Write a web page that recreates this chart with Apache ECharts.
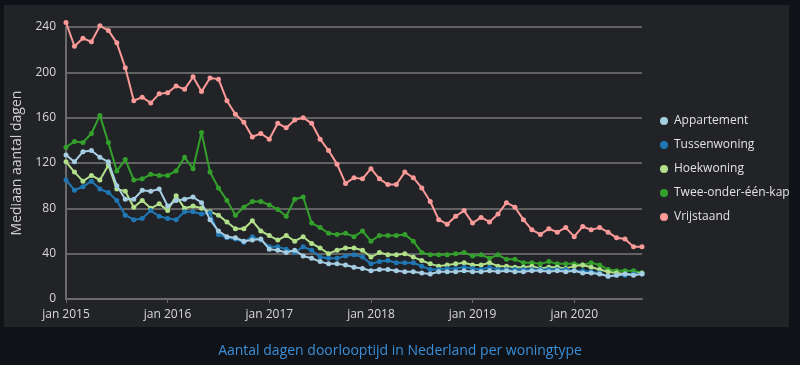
<!DOCTYPE html>
<html>
<head>
<meta charset="utf-8">
<script src="https://cdn.jsdelivr.net/npm/echarts@6/dist/echarts.min.js"></script>
<style>
  html, body { margin: 0; padding: 0; background: #0f1217; }
  #panel { position: absolute; left: 4px; top: 5px; width: 785px; height: 322px; background: #222327; }
  #chart { position: absolute; left: 0; top: 0; width: 800px; height: 365px; }
</style>
</head>
<body>
<div id="panel"></div>
<div id="chart"></div>
<script>
// Months jan 2015 .. sep 2020
const months = [];
for (let y = 2015; y <= 2020; y++) {
  for (let m = 1; m <= 12; m++) {
    if (y === 2020 && m > 9) break;
    months.push(y + '-' + (m < 10 ? '0' + m : m));
  }
}

const seriesNames = ['Appartement', 'Tussenwoning', 'Hoekwoning', 'Twee-onder-één-kap', 'Vrijstaand'];

const appartement = [127,121,130,131,125,121,100,88,88,96,95,97,82,87,88,90,85,70,60,55,54,51,52,53,44,43,41,43,38,36,33,31,31,30,
  28,27,25,26,26,25,24,24,23,22,24,24,24,25,24,24,25,24,25,24,24,25,25,24,25,24,25,23,23,22,20,21,22,21,22];

const tussenwoning = [105,96,99,104,97,94,87,74,70,71,78,73,71,70,77,77,75,76,57,54,53,50,55,52,46,46,44,41,46,43,37,36,36,38,
  39,37,31,33,34,32,32,32,29,26,26,27,27,28,27,26,28,26,26,26,26,26,26,26,26,26,25,25,24,23,20,21,21,22,22];

const hoekwoning = [121,112,104,109,105,118,97,95,81,87,80,84,78,91,80,82,80,77,74,68,62,62,69,60,56,52,56,51,55,49,45,40,43,45,
  45,43,37,41,39,39,40,37,34,31,29,30,31,32,30,30,32,29,29,28,28,29,27,28,28,27,29,30,28,26,24,23,22,22,23];

const tweeOnderEenKap = [134,139,138,146,162,138,113,123,105,106,110,109,109,113,125,115,147,112,98,87,74,81,86,86,83,79,73,88,90,67,63,58,57,58,
  55,60,51,56,56,56,57,51,41,39,39,39,40,41,38,39,36,39,35,35,32,32,31,33,31,31,31,30,32,30,26,25,25,25,23];

const vrijstaand = [244,223,230,227,241,237,226,204,175,178,173,181,182,188,185,196,183,195,194,175,163,156,143,146,141,155,151,158,160,155,141,131,119,102,
  107,106,115,106,101,101,112,107,98,86,70,66,73,78,67,72,68,75,85,81,70,61,57,62,59,63,55,64,61,63,59,54,53,46,46];

const yTicks = [0, 40, 80, 120, 160, 200, 240];
const colors = ['#a6cee3', '#1f78b4', '#b2df8a', '#33a02c', '#fb9a99'];
const caption = 'Aantal dagen doorlooptijd in Nederland per woningtype';
const yName = 'Mediaan aantal dagen';

const allData = [appartement, tussenwoning, hoekwoning, tweeOnderEenKap, vrijstaand];
const font = '"Open Sans", "Noto Sans", sans-serif';

const chart = echarts.init(document.getElementById('chart'), null, { renderer: 'canvas' });
chart.setOption({
  backgroundColor: 'transparent',
  animation: false,
  title: {
    text: caption,
    left: 'center',
    top: 339,
    textStyle: { color: '#3a8fd8', fontSize: 14, fontWeight: 'normal', fontFamily: font }
  },
  grid: { left: 66, right: 158, top: 27, bottom: 66 },
  legend: {
    orient: 'vertical',
    left: 655,
    top: 110,
    itemWidth: 12,
    itemHeight: 8,
    itemGap: 12,
    icon: 'circle',
    textStyle: { color: '#e2e2e2', fontSize: 12, fontFamily: font, padding: [0, 0, 0, -1] },
    data: seriesNames
  },
  xAxis: {
    type: 'category',
    data: months,
    boundaryGap: false,
    axisLine: { lineStyle: { color: '#6b6b6b', width: 2 } },
    axisTick: { show: true, interval: 11, length: 4, lineStyle: { color: '#6b6b6b', width: 1 } },
    axisLabel: {
      interval: 11,
      color: '#d8d8d8',
      fontSize: 12,
      fontFamily: font,
      margin: 10,
      formatter: function (v) { return 'jan ' + v.slice(0, 4); }
    },
    splitLine: { show: false }
  },
  yAxis: {
    type: 'value',
    min: yTicks[0],
    max: yTicks[yTicks.length - 1],
    interval: 40,
    name: yName,
    nameLocation: 'middle',
    nameGap: 42,
    nameTextStyle: { color: '#d0d0d0', fontSize: 14, fontFamily: font },
    axisLine: { show: true, lineStyle: { color: '#6b6b6b', width: 2 } },
    axisTick: { show: false },
    axisLabel: { color: '#d8d8d8', fontSize: 12, fontFamily: font, margin: 10 },
    splitLine: { lineStyle: { color: '#626262', width: 2 } }
  },
  series: seriesNames.map((name, i) => ({
    name: name,
    type: 'line',
    data: allData[i],
    clip: false,
    symbol: 'circle',
    symbolSize: 5,
    showSymbol: true,
    color: colors[i],
    lineStyle: { width: 2, color: colors[i] },
    itemStyle: { color: colors[i] },
    z: 2 + (seriesNames.length - i)
  }))
});
</script>
</body>
</html>
